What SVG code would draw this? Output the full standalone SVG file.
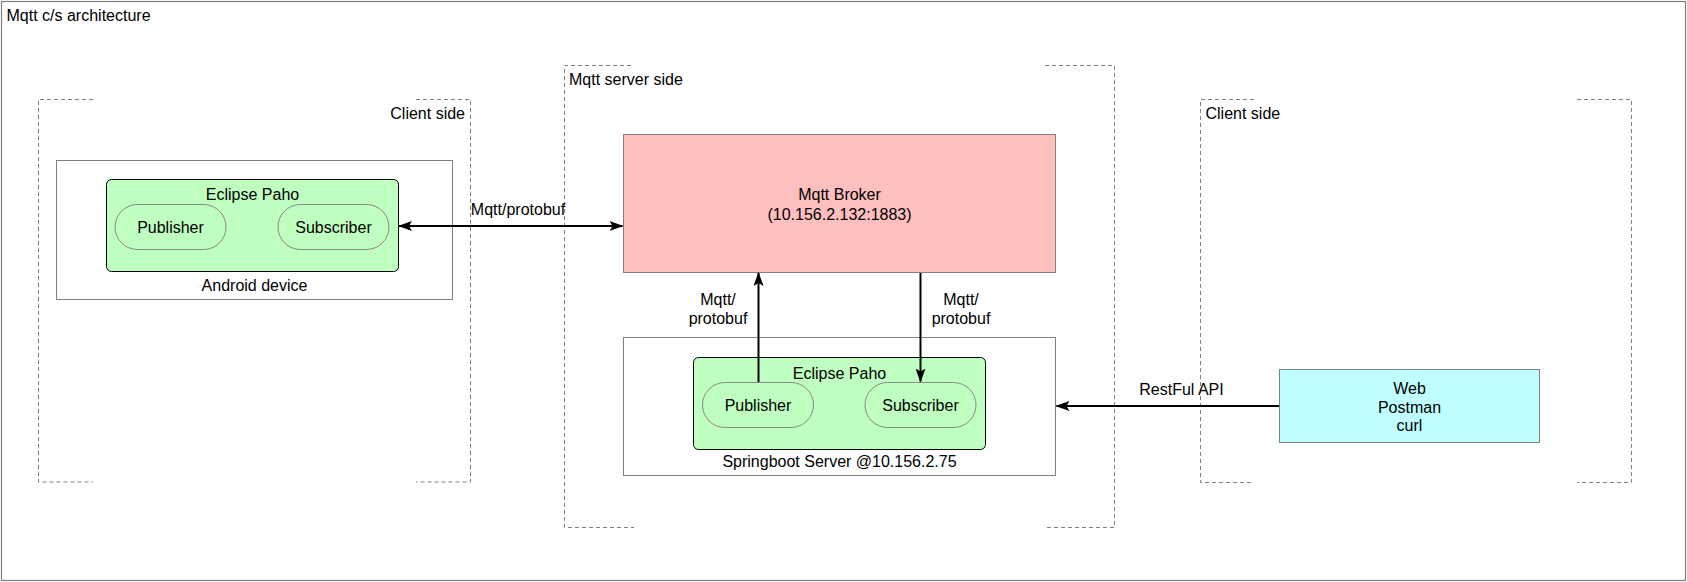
<svg xmlns="http://www.w3.org/2000/svg" width="1687" height="582" viewBox="0 0 1687 582">
<style>
text{font-family:"Liberation Sans",Arial,Helvetica,sans-serif;font-size:16px;fill:#000}
.c{text-anchor:middle}
.box{fill:#fff;stroke:#808080;stroke-width:1}
.dash{fill:none;stroke:#808080;stroke-width:1;stroke-dasharray:4 3}
.green{fill:#bfffbf;stroke:#000;stroke-width:1}
.pill{fill:#bfffbf;stroke:#888;stroke-width:1}
.edge{fill:none;stroke:#000;stroke-width:2}
</style>
<defs>
<marker id="ah" markerUnits="userSpaceOnUse" markerWidth="14" markerHeight="10" refX="13" refY="5" orient="auto-start-reverse" viewBox="0 0 14 10">
<path d="M0,0 L14,5 L0,10 L3,5 Z" fill="#000"/>
</marker>
</defs>
<rect width="1687" height="582" fill="#fff"/>
<g id="frame">
<rect x="1.5" y="1.5" width="1684" height="579" fill="none" stroke="#808080" stroke-width="1.2"/>
<text x="6.5" y="20.5">Mqtt c/s architecture</text>
</g>
<g id="client-left">
<path class="dash" d="M93,99.5 H38.5 V482 H93 M416,99.5 H470.5 V482 H416"/>
<text x="465" y="119" text-anchor="end">Client side</text>
</g>
<g id="server-side">
<path class="dash" d="M631,65.5 H564.5 V527.5 H634 M1045,65.5 H1114.5 V527.5 H1045"/>
<text x="569" y="85">Mqtt server side</text>
</g>
<g id="client-right">
<path class="dash" d="M1254,99.5 H1200.5 V482.5 H1254 M1577,99.5 H1631.5 V482.5 H1577"/>
<text x="1205.5" y="119">Client side</text>
</g>
<g id="android-device">
<rect class="box" x="56.5" y="160.5" width="396" height="139"/>
<text class="c" x="254.5" y="290.5">Android device</text>
</g>
<g id="paho-android">
<rect class="green" x="106.5" y="179.5" width="292" height="92" rx="5"/>
<text class="c" x="252.5" y="199.5">Eclipse Paho</text>
</g>
<g id="publisher-android">
<rect class="pill" x="115" y="204.5" width="111" height="45" rx="22.5"/>
<text class="c" x="170.5" y="233">Publisher</text>
</g>
<g id="subscriber-android">
<rect class="pill" x="278" y="204.5" width="111" height="45" rx="22.5"/>
<text class="c" x="333.5" y="233">Subscriber</text>
</g>
<g id="broker">
<rect x="623.5" y="134.5" width="432" height="138" fill="#ffbfbf" stroke="#808080" stroke-width="1"/>
<text class="c" x="839.5" y="199.5">Mqtt Broker</text>
<text class="c" x="839.5" y="219.5">(10.156.2.132:1883)</text>
</g>
<g id="springboot">
<rect class="box" x="623.5" y="337.5" width="432" height="138"/>
<text class="c" x="839.5" y="466.5">Springboot Server @10.156.2.75</text>
</g>
<g id="paho-server">
<rect class="green" x="693.5" y="357.5" width="292" height="92" rx="5"/>
<text class="c" x="839.5" y="378.5">Eclipse Paho</text>
</g>
<g id="publisher-server">
<rect class="pill" x="702.5" y="382.5" width="111" height="45" rx="22.5"/>
<text class="c" x="758" y="411">Publisher</text>
</g>
<g id="subscriber-server">
<rect class="pill" x="865" y="382.5" width="111" height="45" rx="22.5"/>
<text class="c" x="920.5" y="411">Subscriber</text>
</g>
<g id="web-clients">
<rect x="1279.5" y="369.5" width="260" height="73" fill="#bfffff" stroke="#808080" stroke-width="1"/>
<text class="c" x="1409.5" y="394">Web</text>
<text class="c" x="1409.5" y="412.5">Postman</text>
<text class="c" x="1409.5" y="431">curl</text>
</g>
<g id="connectors">
<path class="edge" d="M399,226 H622.5" marker-start="url(#ah)" marker-end="url(#ah)"/>
<text class="c" x="518" y="215">Mqtt/protobuf</text>
<path class="edge" d="M758.5,382 V273" marker-end="url(#ah)"/>
<text class="c" x="718" y="305">Mqtt/</text>
<text class="c" x="718" y="323.5">protobuf</text>
<path class="edge" d="M920.5,273 V381.5" marker-end="url(#ah)"/>
<text class="c" x="961" y="305">Mqtt/</text>
<text class="c" x="961" y="323.5">protobuf</text>
<path class="edge" d="M1279,406 H1056.5" marker-end="url(#ah)"/>
<text class="c" x="1181.5" y="395">RestFul API</text>
</g>
</svg>
